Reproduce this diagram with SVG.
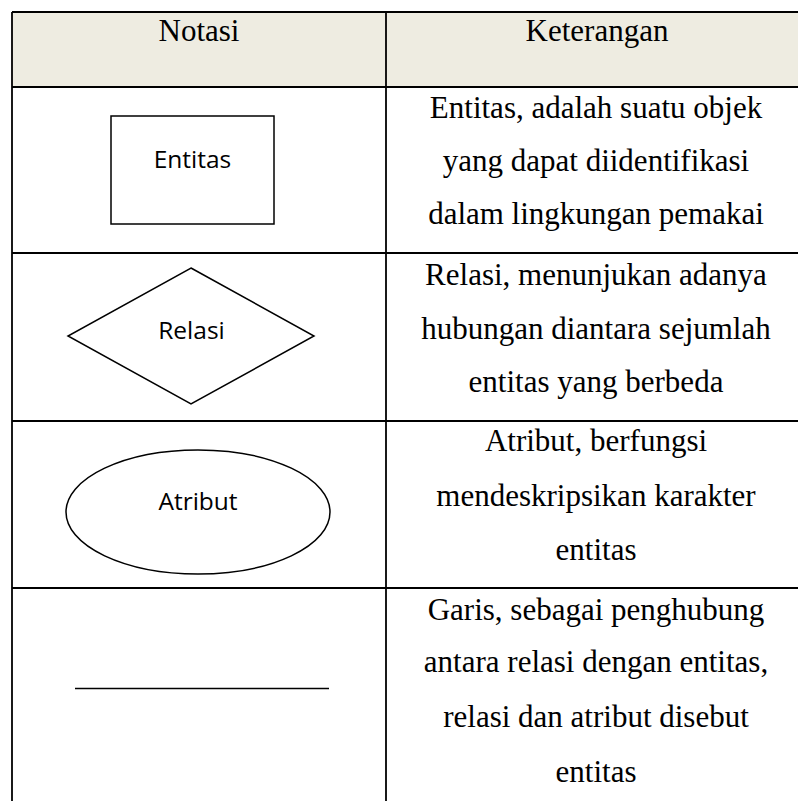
<svg xmlns="http://www.w3.org/2000/svg" width="798" height="801" viewBox="0 0 798 801">
<style>
.grid{stroke:#000;stroke-width:1.8;fill:none}
.shape{stroke:#000;stroke-width:1.5;fill:none}
.tnr{font-family:"Liberation Serif","Times New Roman",serif;font-size:31px;fill:#000;text-anchor:middle}
.lbl{font-family:"Open Sans","Noto Sans",sans-serif;font-size:24.5px;fill:#000;text-anchor:middle}
</style>
<rect width="798" height="801" fill="#fff"/>
<g id="table">
<rect x="12" y="12" width="794" height="75" fill="#EEECE1"/>
<line class="grid" x1="12" y1="12" x2="806" y2="12"/>
<line class="grid" x1="12" y1="87" x2="806" y2="87"/>
<line class="grid" x1="12" y1="253" x2="806" y2="253"/>
<line class="grid" x1="12" y1="421" x2="806" y2="421"/>
<line class="grid" x1="12" y1="588" x2="806" y2="588"/>
<line class="grid" x1="12" y1="12" x2="12" y2="801"/>
<line class="grid" x1="386" y1="12" x2="386" y2="801"/>
<text class="tnr" x="199" y="40.5">Notasi</text>
<text class="tnr" x="597" y="40.5">Keterangan</text>
</g>
<g id="entitas">
<rect class="shape" x="111" y="116" width="163" height="108"/>
<text class="lbl" x="192.5" y="168">Entitas</text>
</g>
<g id="entitas-desc">
<text class="tnr" x="596" y="117.5">Entitas, adalah suatu objek</text>
<text class="tnr" x="596" y="170.5">yang dapat diidentifikasi</text>
<text class="tnr" x="596" y="223.5">dalam lingkungan pemakai</text>
</g>
<g id="relasi">
<polygon class="shape" points="191,268 314,336 191,404 68,336"/>
<text class="lbl" x="191.5" y="339">Relasi</text>
</g>
<g id="relasi-desc">
<text class="tnr" x="596" y="285">Relasi, menunjukan adanya</text>
<text class="tnr" x="596" y="338.5">hubungan diantara sejumlah</text>
<text class="tnr" x="596" y="392">entitas yang berbeda</text>
</g>
<g id="atribut">
<ellipse class="shape" cx="198" cy="512" rx="132" ry="62"/>
<text class="lbl" x="198" y="509.5">Atribut</text>
</g>
<g id="atribut-desc">
<text class="tnr" x="596" y="451">Atribut, berfungsi</text>
<text class="tnr" x="596" y="505.5">mendeskripsikan karakter</text>
<text class="tnr" x="596" y="560">entitas</text>
</g>
<g id="connectors">
<line class="shape" x1="75" y1="688.5" x2="329" y2="688.5" stroke-width="1.7"/>
</g>
<g id="garis-desc">
<text class="tnr" x="596" y="620">Garis, sebagai penghubung</text>
<text class="tnr" x="596" y="672">antara relasi dengan entitas,</text>
<text class="tnr" x="596" y="727">relasi dan atribut disebut</text>
<text class="tnr" x="596" y="782">entitas</text>
</g>
</svg>
